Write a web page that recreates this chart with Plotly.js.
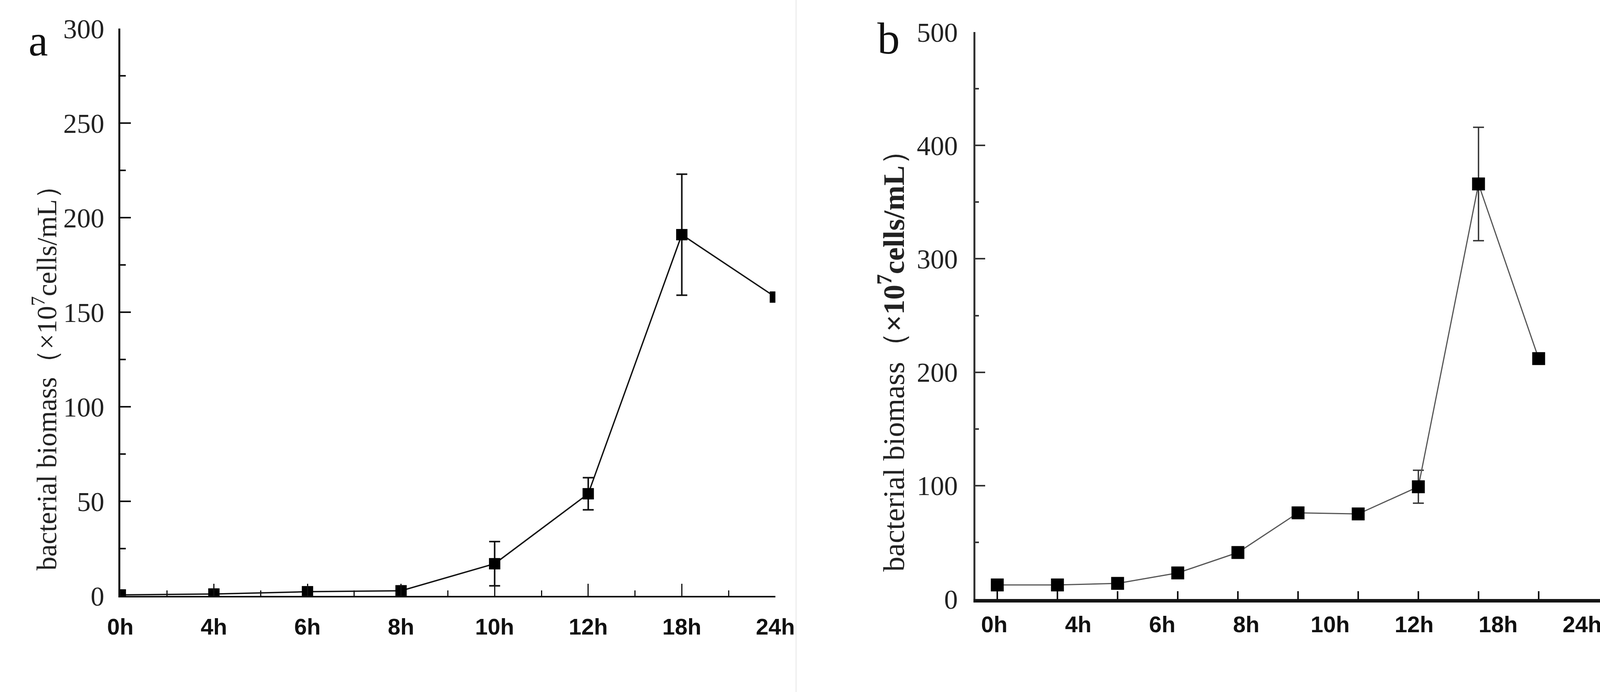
<!DOCTYPE html>
<html>
<head>
<meta charset="utf-8">
<script src="https://cdn.plot.ly/plotly-3.0.1.min.js"></script>
<style>
  html, body { margin: 0; padding: 0; background: #ffffff; }
  #chart { width: 4200px; height: 1771px; }
</style>
</head>
<body>
<div id="chart"></div>
<script>
// ---------- data ----------
const timeLabels = ['0h', '4h', '6h', '8h', '10h', '12h', '18h', '24h'];

// panel a: one value per time label
const biomassA = [0.5, 1, 2.2, 2.7, 17, 54, 191, 158];
const errorA   = [0, 0, 0, 0, 11.7, 8.5, 32, 2];

// panel b: ten sampling points
const biomassB = [12.4, 12.4, 13.8, 23, 41, 76, 75, 99, 366, 212];
const errorB   = [0, 0, 0, 0, 0, 0, 0, 14.5, 50, 3];

const yTicksA = [0, 50, 100, 150, 200, 250, 300];
const yTicksB = [0, 100, 200, 300, 400, 500];

const yTitleText = 'bacterial biomass（×10<sup>7</sup>cells/mL）';
const yTitleTextB = 'bacterial biomass（<b>×10<sup>7</sup>cells/mL</b>）';

// ---------- derived positions (through axes) ----------
const idxA = timeLabels.map((_, i) => i);
const minorA = timeLabels.slice(1).map((_, i) => i + 0.5);
const idxB = biomassB.map((_, i) => i);
// in panel b the labels are spaced differently from the sample ticks
const labelStartB = -0.05, labelStepB = 1.396;
const labelPosB = timeLabels.map((_, i) => labelStartB + i * labelStepB);

// ---------- geometry helpers ----------
const W = 4200, H = 1771;
const px = v => v / W;
const py = v => 1 - v / H;

const serif = 'Liberation Serif, Times New Roman, serif';
const boldSans = { family: 'Liberation Sans, Arial, sans-serif', size: 58, weight: 'bold', color: '#111' };

const traces = [
  {
    x: idxA, y: biomassA, xaxis: 'x', yaxis: 'y',
    type: 'scatter', mode: 'lines+markers',
    line: { color: '#111', width: 3.5 },
    marker: { symbol: 'square', size: 29, color: '#000', line: { width: 0 } },
    error_y: { type: 'data', array: errorA, visible: true, color: '#111', thickness: 4, width: 14 },
    cliponaxis: true, showlegend: false, hoverinfo: 'skip'
  },
  { x: [null], y: [null], xaxis: 'x3', yaxis: 'y', type: 'scatter', mode: 'markers', showlegend: false, hoverinfo: 'skip' },
  {
    x: idxB, y: biomassB, xaxis: 'x2', yaxis: 'y2',
    type: 'scatter', mode: 'lines+markers',
    line: { color: '#555', width: 3 },
    marker: { symbol: 'square', size: 33, color: '#000', line: { width: 0 } },
    error_y: { type: 'data', array: errorB, visible: true, color: '#333', thickness: 3.5, width: 14 },
    cliponaxis: false, showlegend: false, hoverinfo: 'skip'
  },
  { x: [null], y: [null], xaxis: 'x4', yaxis: 'y2', type: 'scatter', mode: 'markers', showlegend: false, hoverinfo: 'skip' }
];

const domXA = [px(308), px(1985)];
const domYA = [py(1525), py(73)];
const domXB = [px(2497), px(4200)];
const domYB = [py(1533), py(82)];
const rangeXB = [-0.364, 10.695];

const layout = {
  width: W, height: H,
  margin: { l: 0, r: 0, t: 0, b: 0 },
  paper_bgcolor: '#ffffff', plot_bgcolor: 'rgba(0,0,0,0)',
  showlegend: false,
  xaxis: {
    domain: domXA, anchor: 'y', range: [0, 7], type: 'linear',
    tickmode: 'array', tickvals: idxA, ticktext: timeLabels,
    ticks: 'inside', ticklen: 31, tickwidth: 3, tickcolor: '#111',
    showline: true, linewidth: 3.5, linecolor: '#111',
    showgrid: false, zeroline: false, automargin: false,
    tickfont: boldSans, ticklabelstandoff: 26
  },
  xaxis3: {
    overlaying: 'x', domain: domXA, anchor: 'y', range: [0, 7], type: 'linear',
    tickmode: 'array', tickvals: minorA, showticklabels: false,
    ticks: 'inside', ticklen: 14, tickwidth: 3, tickcolor: '#111',
    showline: false, showgrid: false, zeroline: false, automargin: false
  },
  yaxis: {
    domain: domYA, anchor: 'x', range: [0, 300],
    tickmode: 'array', tickvals: yTicksA,
    ticks: 'inside', ticklen: 27, tickwidth: 4, tickcolor: '#111',
    minor: { ticks: 'inside', ticklen: 14, tickwidth: 4, tickcolor: '#111', dtick: 25, tick0: 0, showgrid: false },
    showline: true, linewidth: 5, linecolor: '#111',
    showgrid: false, zeroline: false, automargin: false,
    tickfont: { family: serif, size: 70, color: '#222' }, ticklabelstandoff: 22
  },
  xaxis2: {
    domain: domXB, anchor: 'y2', range: rangeXB, type: 'linear',
    tickmode: 'array', tickvals: idxB, showticklabels: false,
    ticks: 'inside', ticklen: 20, tickwidth: 3.5, tickcolor: '#111',
    showline: true, linewidth: 9, linecolor: '#151515',
    showgrid: false, zeroline: false, automargin: false
  },
  xaxis4: {
    overlaying: 'x2', domain: domXB, anchor: 'y2', range: rangeXB, type: 'linear',
    tickmode: 'array', tickvals: labelPosB, ticktext: timeLabels,
    ticks: '', showline: false, showgrid: false, zeroline: false, automargin: false,
    tickfont: boldSans, ticklabelstandoff: 26
  },
  yaxis2: {
    domain: domYB, anchor: 'x2', range: [0, 500],
    tickmode: 'array', tickvals: yTicksB,
    ticks: 'inside', ticklen: 25, tickwidth: 4, tickcolor: '#333',
    minor: { ticks: 'inside', ticklen: 9, tickwidth: 4, tickcolor: '#333', dtick: 50, tick0: 0, showgrid: false },
    showline: true, linewidth: 5, linecolor: '#333',
    showgrid: false, zeroline: false, automargin: false,
    tickfont: { family: serif, size: 70, color: '#222' }, ticklabelstandoff: 26
  },
  shapes: [
    { type: 'line', xref: 'paper', yref: 'paper', x0: px(2038), x1: px(2038), y0: 0, y1: 1,
      line: { color: '#ededed', width: 3 } }
  ],
  annotations: [
    { text: 'a', xref: 'paper', yref: 'paper', x: px(98), y: py(104), xanchor: 'center', yanchor: 'middle',
      showarrow: false, font: { family: serif, size: 112, color: '#111' } },
    { text: 'b', xref: 'paper', yref: 'paper', x: px(2275), y: py(98), xanchor: 'center', yanchor: 'middle',
      showarrow: false, font: { family: serif, size: 115, color: '#111' } },
    { text: yTitleText, xref: 'paper', yref: 'paper', x: px(114), y: py(950), xanchor: 'center', yanchor: 'middle',
      textangle: -90, showarrow: false, font: { family: serif, size: 71, color: '#222' } },
    { text: yTitleTextB, xref: 'paper', yref: 'paper', x: px(2282), y: py(905), xanchor: 'center', yanchor: 'middle',
      textangle: -90, showarrow: false, font: { family: serif, size: 77, color: '#222' } }
  ]
};

Plotly.newPlot('chart', traces, layout, { displayModeBar: false, staticPlot: true });
</script>
</body>
</html>
